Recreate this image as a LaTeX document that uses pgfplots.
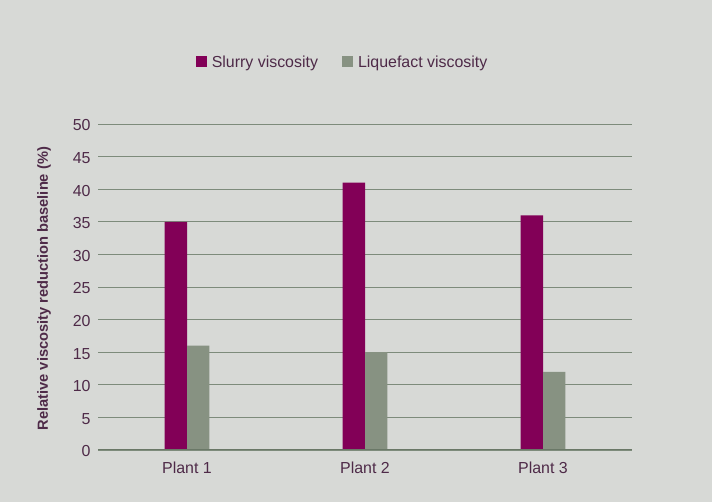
\documentclass[border=0pt]{standalone}
\usepackage{pgfplots}
\pgfplotsset{compat=1.18}
\usepackage{fontspec}
\setmainfont{Liberation Sans}
\definecolor{bg}{HTML}{D7D9D6}
\definecolor{slurry}{HTML}{820057}
\definecolor{liq}{HTML}{879282}
\definecolor{txt}{HTML}{4E2A48}
\definecolor{gridc}{HTML}{7D8B7B}
\definecolor{axc}{HTML}{6A7867}
\begin{document}
\begin{tikzpicture}
\fill[bg] (0bp,0bp) rectangle (712bp,502bp);
\begin{axis}[
  at={(98bp,52bp)}, anchor=south west,
  scale only axis, width=534bp, height=326bp,
  xmin=-0.5, xmax=2.5, ymin=0, ymax=50,
  ytick={0,5,...,50}, xtick={0,1,2},
  xticklabels={Plant 1,Plant 2,Plant 3},
  /pgf/number format/assume math mode=true,
  axis line style={draw=none},
  major tick length=0pt,
  ymajorgrids, grid style={draw=gridc, line width=1bp},
  tick label style={font=\fontsize{16}{18}\selectfont, text=txt},
  yticklabel style={xshift=-4bp, yshift=-1.5bp},
  xticklabel style={yshift=-8bp},
  ylabel={Relative viscosity reduction baseline (\%)},
  ylabel style={at={(axis description cs:-0.101,0.495)}, anchor=center, rotate=0, font=\bfseries\fontsize{14.7}{16}\selectfont, text=txt},
  ybar, bar width=0.126,
  legend columns=2,
  legend style={at={(axis description cs:0.458,1.19)}, anchor=center, draw=none, fill=none,
    font=\fontsize{16}{18}\selectfont, text=txt,
    /tikz/every even column/.append style={column sep=22bp}},
  legend image code/.code={\fill[#1] (0bp,-4.5bp) rectangle (11bp,6.5bp); \path (14bp,0bp);},
]
\addplot[fill=slurry, draw=none, bar shift=-0.063] coordinates {(0,35) (1,41) (2,36)};
\addplot[fill=liq, draw=none, bar shift=0.063] coordinates {(0,16) (1,15) (2,12)};
\legend{Slurry viscosity, Liquefact viscosity}
\draw[axc, line width=2.5bp] (rel axis cs:0,0) -- (rel axis cs:1,0);
\end{axis}
\end{tikzpicture}
\end{document}
